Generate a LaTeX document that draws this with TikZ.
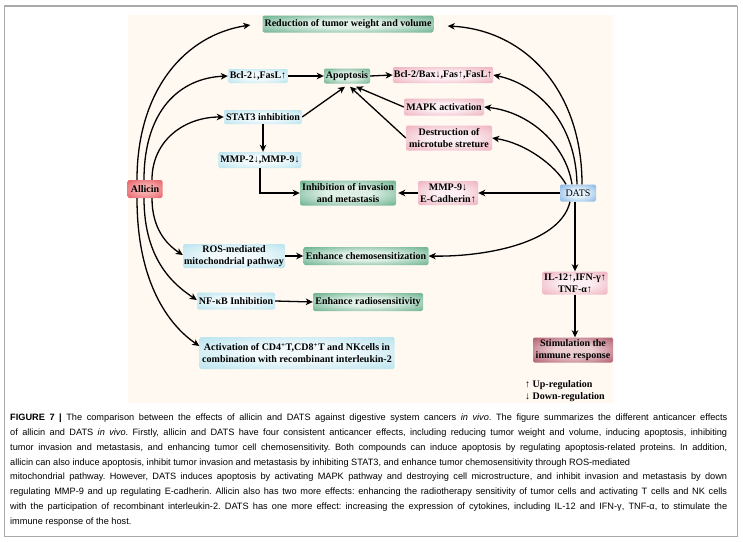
\documentclass[tikz,border=0pt]{standalone}
\usepackage{fontspec}
\setmainfont{Liberation Serif}
\newfontfamily\capfont{Liberation Sans}
\usetikzlibrary{arrows.meta}
\definecolor{cream}{RGB}{255,249,242}
\definecolor{frame}{RGB}{170,170,170}
\definecolor{gIn}{RGB}{222,240,230}\definecolor{gOut}{RGB}{36,138,88}
\definecolor{cIn}{RGB}{242,250,252}\definecolor{cOut}{RGB}{150,214,230}
\definecolor{pIn}{RGB}{252,238,242}\definecolor{pOut}{RGB}{230,140,160}
\definecolor{rIn}{RGB}{246,170,172}\definecolor{rOut}{RGB}{222,48,60}
\definecolor{bIn}{RGB}{228,242,252}\definecolor{bOut}{RGB}{70,140,210}
\definecolor{mIn}{RGB}{236,205,210}\definecolor{mOut}{RGB}{140,25,50}
\pgfdeclareradialshading{gglow}{\pgfpointorigin}{color(0bp)=(gIn); color(12bp)=(gIn); color(50bp)=(gOut)}
\pgfdeclareradialshading{cglow}{\pgfpointorigin}{color(0bp)=(cIn); color(12bp)=(cIn); color(50bp)=(cOut)}
\pgfdeclareradialshading{pglow}{\pgfpointorigin}{color(0bp)=(pIn); color(12bp)=(pIn); color(50bp)=(pOut)}
\pgfdeclareradialshading{rglow}{\pgfpointorigin}{color(0bp)=(rIn); color(12bp)=(rIn); color(50bp)=(rOut)}
\pgfdeclareradialshading{bglow}{\pgfpointorigin}{color(0bp)=(bIn); color(12bp)=(bIn); color(50bp)=(bOut)}
\pgfdeclareradialshading{mglow}{\pgfpointorigin}{color(0bp)=(mIn); color(12bp)=(mIn); color(50bp)=(mOut)}
\tikzset{
  box/.style={rounded corners=2pt, inner sep=1pt, align=center,
    font=\fontsize{10}{12}\selectfont\bfseries},
  gbox/.style={box, shading=gglow},
  cbox/.style={box, shading=cglow},
  pbox/.style={box, shading=pglow},
  rbox/.style={box, shading=rglow},
  bbox/.style={box, shading=bglow, font=\fontsize{10}{12}\selectfont},
  mbox/.style={box, shading=mglow},
  arr/.style={-{Stealth[length=7pt,width=6.5pt,inset=2pt]}, line width=1.3pt},
  legend/.style={anchor=west, inner sep=0pt, font=\fontsize{10}{12}\selectfont\bfseries}
}
\begin{document}
\begin{tikzpicture}[x=1pt,y=-1pt]
\useasboundingbox (0,0) rectangle (743,541);
\fill[white] (0,0) rectangle (743,541);
\draw[frame, line width=1pt] (4,6) -- (4,536) -- (737,536) -- (737,6);
\draw[frame, line width=2pt] (4,6) -- (737,6);
\fill[cream] (128,15) rectangle (613,403);

% nodes
\node[gbox, minimum width=171pt, minimum height=17pt] (red) at (348,24) {Reduction of tumor weight and volume};
\node[cbox, minimum width=60pt, minimum height=14pt] (bcl) at (258,76) {Bcl-2↓,FasL↑};
\node[gbox, minimum width=46pt, minimum height=15pt] (apo) at (347,76) {Apoptosis};
\node[pbox, minimum width=100pt, minimum height=16pt] (bclbax) at (443,75) {Bcl-2/Bax↓,Fas↑,FasL↑};
\node[pbox, minimum width=80pt, minimum height=17pt] (mapk) at (444,107) {MAPK activation};
\node[pbox, minimum width=86pt, minimum height=25pt] (destr) at (449,138) {Destruction of\\microtube streture};
\node[cbox, minimum width=78pt, minimum height=14pt] (stat) at (263,117) {STAT3 inhibition};
\node[cbox, minimum width=83pt, minimum height=16pt] (mmp2) at (260,160) {MMP-2↓,MMP-9↓};
\node[gbox, minimum width=96pt, minimum height=25pt] (inhib) at (348,193) {Inhibition of invasion\\and metastasis};
\node[rbox, minimum width=35pt, minimum height=18pt] (all) at (145,189) {Allicin};
\node[pbox, minimum width=60pt, minimum height=24pt] (mmp9) at (448,193) {MMP-9↓\\E-Cadherin↑};
\node[bbox, minimum width=36pt, minimum height=17pt] (dats) at (578,193) {DATS};
\node[cbox, minimum width=102pt, minimum height=24pt] (ros) at (234,256) {ROS-mediated\\mitochondrial pathway};
\node[gbox, minimum width=125pt, minimum height=18pt] (chemo) at (366,256) {Enhance chemosensitization};
\node[cbox, minimum width=78pt, minimum height=17pt] (nfkb) at (236,301) {NF-κB Inhibition};
\node[gbox, minimum width=110pt, minimum height=18pt] (radio) at (368,302) {Enhance radiosensitivity};
\node[cbox, minimum width=195pt, minimum height=32pt] (act) at (297,353) {Activation of CD4\textsuperscript{+}T,CD8\textsuperscript{+}T and NKcells in\\combination with recombinant interleukin-2};
\node[pbox, minimum width=65pt, minimum height=23pt] (il) at (575,283) {IL-12↑,IFN-γ↑\\TNF-α↑};
\node[mbox, minimum width=80pt, minimum height=25pt] (stim) at (573,350) {Stimulation the\\immune response};
\node[legend] (up) at (525,385) {↑ Up-regulation};
\node[legend] (down) at (525,397) {↓ Down-regulation};

% arrows from Allicin
\draw[arr] ([xshift=-8pt]all.north) .. controls (137,90) and (185,35) .. ([xshift=-12pt,yshift=-1pt]red.west);
\draw[arr] ([xshift=-1pt]all.north) .. controls (144,110) and (180,78) .. (bcl.west);
\draw[arr] ([xshift=7pt]all.north) .. controls (152,140) and (185,117) .. (stat.west);
\draw[arr] ([xshift=7pt]all.south) .. controls (152,228) and (166,244) .. ([yshift=1pt]ros.west);
\draw[arr] ([xshift=-1pt]all.south) .. controls (144,262) and (176,286) .. ([yshift=1pt]nfkb.west);
\draw[arr] ([xshift=-8pt]all.south) .. controls (137,292) and (176,330) .. ([yshift=7pt]act.west);

% allicin side chains
\draw[arr] (bcl.east) -- (apo.west);
\draw[arr] (apo.east) -- (bclbax.west);
\draw[arr] (stat.east) -- ([xshift=-2pt,yshift=-3pt]apo.south);
\draw[arr] (destr.west) -- ([xshift=3pt,yshift=-3pt]apo.south);
\draw[arr] (mapk.west) -- ([xshift=9pt,yshift=-3pt]apo.south);
\draw[arr] (stat.south) -- (stat.south |- mmp2.north);
\draw[arr] (mmp2.south) |- (inhib.west);
\draw[arr] (ros.east) -- (chemo.west);
\draw[arr] (nfkb.east) -- (radio.west);

% arrows from DATS
\draw[arr] ([xshift=4pt]dats.north) .. controls (582,90) and (525,30) .. ([xshift=14pt,yshift=-2pt]red.east);
\draw[arr] ([xshift=-1pt]dats.north) .. controls (576,125) and (540,85) .. (bclbax.east);
\draw[arr] ([xshift=-6pt]dats.north) .. controls (566,145) and (530,112) .. (mapk.east);
\draw[arr] ([xshift=-12pt]dats.north) .. controls (555,165) and (525,143) .. (destr.east);
\draw[arr] (dats.west) -- (mmp9.east);
\draw[arr] (mmp9.west) -- ([xshift=2pt]inhib.east);
\draw[arr] ([xshift=-8pt]dats.south) .. controls (560,245) and (480,257) .. (chemo.east);
\draw[arr] (dats.south -| il.north) -- (il.north);
\draw[arr] (il.south) -- (il.south |- stim.north);

% caption
\node[anchor=north west, inner sep=0pt, text width=717pt, align=justify,
  font=\capfont\fontsize{9.2}{14.9}\selectfont\frenchspacing] (cap) at (10,413.5)
{\textbf{FIGURE 7 |} The comparison between the effects of allicin and DATS against digestive system cancers \textit{in vivo}. The figure summarizes the different anticancer effects\linebreak
of allicin and DATS \textit{in vivo}. Firstly, allicin and DATS have four consistent anticancer effects, including reducing tumor weight and volume, inducing apoptosis, inhibiting\linebreak
tumor invasion and metastasis, and enhancing tumor cell chemosensitivity. Both compounds can induce apoptosis by regulating apoptosis-related proteins. In addition,\linebreak
allicin can also induce apoptosis, inhibit tumor invasion and metastasis by inhibiting STAT3, and enhance tumor chemosensitivity through ROS-mediated\newline
mitochondrial pathway. However, DATS induces apoptosis by activating MAPK pathway and destroying cell microstructure, and inhibit invasion and metastasis by down\linebreak
regulating MMP-9 and up regulating E-cadherin. Allicin also has two more effects: enhancing the radiotherapy sensitivity of tumor cells and activating T cells and NK cells\linebreak
with the participation of recombinant interleukin-2. DATS has one more effect: increasing the expression of cytokines, including IL-12 and IFN-γ, TNF-α, to stimulate the\linebreak
immune response of the host.};
\end{tikzpicture}
\end{document}
